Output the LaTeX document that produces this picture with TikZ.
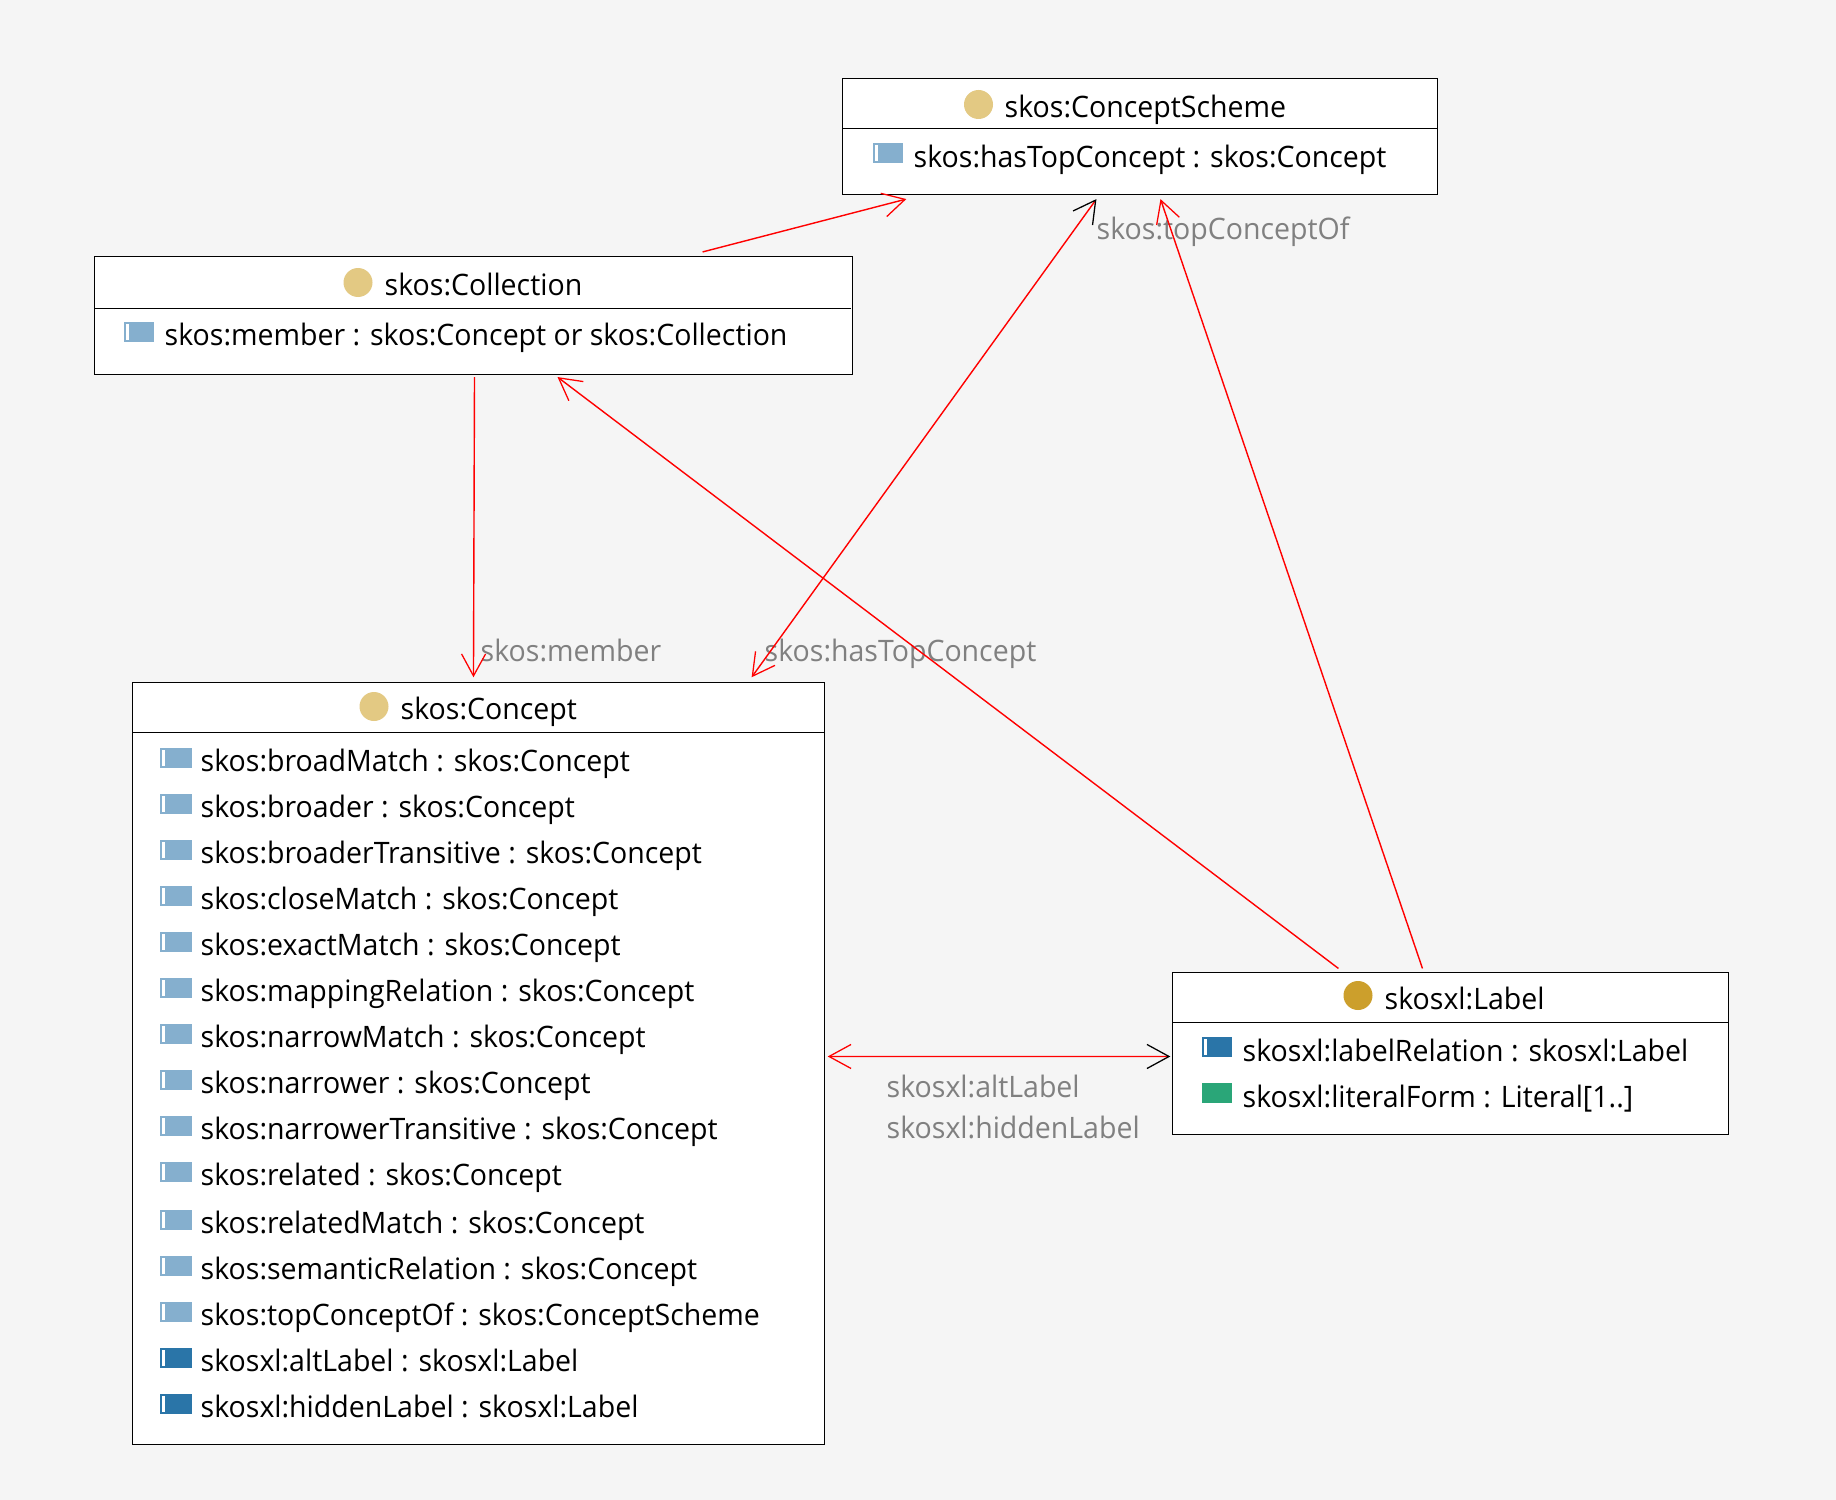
\documentclass[tikz,border=0pt]{standalone}
\usepackage{fontspec}
\setmainfont[FakeStretch=0.965]{Open Sans}
\usetikzlibrary{arrows.meta}

\definecolor{pagebg}{HTML}{F5F5F5}
\definecolor{classpale}{HTML}{E3C983}
\definecolor{classdark}{HTML}{CC9F2C}
\definecolor{proppale}{HTML}{85AFCE}
\definecolor{propdark}{HTML}{2A75A8}
\definecolor{propgreen}{HTML}{2AA678}
\definecolor{edgegray}{HTML}{808080}

\tikzset{
  classbox/.style={draw=black, fill=white, line width=0.3pt, rectangle, inner sep=0pt},
  classtext/.style={anchor=base west, inner sep=0pt, font=\fontsize{8.4}{10}\selectfont},
  edgetext/.style={classtext, text=edgegray},
  assoc/.style={red, line width=0.4pt},
  openhead/.tip={Straight Barb[length=0.22cm, width=0.24cm, line width=0.36pt]},
  blackhead/.tip={Straight Barb[length=0.22cm, width=0.24cm, line width=0.36pt, color=black]}
}

% icon and text of one property row: name, text x, baseline y, icon width, colour, text
\newcommand{\proprow}[6]{
  \fill[#5] (#2-40,#3-24) rectangle (#2-40+#4,#3-4);
  \fill[white] (#2-38,#3-22) rectangle (#2-35,#3-6);
  \node[classtext] (#1) at (#2,#3) {#6};
}
% class circle and title: name, circle x, circle y, colour, text x, baseline y, text
\newcommand{\classtitle}[7]{
  \fill[#4] (#2,#3) circle (14.5);
  \node[classtext] (#1) at (#5,#6) {#7};
}

\begin{document}
\begin{tikzpicture}[x=0.01cm, y=-0.01cm]
  \useasboundingbox[fill=pagebg] (0,0) rectangle (1836,1500);

  % Class boxes
  \node[classbox, minimum width=5.94cm, minimum height=1.16cm] (scheme) at (1140,136.5) {};
  \node[classbox, minimum width=7.57cm, minimum height=1.18cm] (collection) at (473.5,315.5) {};
  \node[classbox, minimum width=6.91cm, minimum height=7.61cm] (concept) at (478.5,1063.5) {};
  \node[classbox, minimum width=5.55cm, minimum height=1.61cm] (label) at (1450.5,1053.5) {};

  % Header rules
  \draw[line width=0.3pt] (842.5,128.5) -- (1437,128.5);
  \draw[line width=0.3pt] (94.5,308.5) -- (851,308.5);
  \draw[line width=0.3pt] (133,732.5) -- (824,732.5);
  \draw[line width=0.3pt] (1173,1022.5) -- (1728,1022.5);

  % skos:ConceptScheme
  \classtitle{schemetitle}{978.5}{104.5}{classpale}{1004}{118}{skos:ConceptScheme}
  \proprow{schemetop}{913}{167.5}{30}{proppale}{skos:hasTopConcept : skos:Concept}

  % skos:Collection
  \classtitle{collectiontitle}{358}{282.5}{classpale}{384}{295}{skos:Collection}
  \proprow{collectionmember}{164}{345.5}{30}{proppale}{skos:member : skos:Concept or skos:Collection}

  % skos:Concept
  \classtitle{concepttitle}{374}{706.5}{classpale}{400}{719}{skos:Concept}
  \proprow{broadmatch}{200}{771.5}{32}{proppale}{skos:broadMatch : skos:Concept}
  \proprow{broader}{200}{817.5}{32}{proppale}{skos:broader : skos:Concept}
  \proprow{broadertrans}{200}{863.5}{32}{proppale}{skos:broaderTransitive : skos:Concept}
  \proprow{closematch}{200}{909.5}{32}{proppale}{skos:closeMatch : skos:Concept}
  \proprow{exactmatch}{200}{955.5}{32}{proppale}{skos:exactMatch : skos:Concept}
  \proprow{mapping}{200}{1001.5}{32}{proppale}{skos:mappingRelation : skos:Concept}
  \proprow{narrowmatch}{200}{1047.5}{32}{proppale}{skos:narrowMatch : skos:Concept}
  \proprow{narrower}{200}{1093.5}{32}{proppale}{skos:narrower : skos:Concept}
  \proprow{narrowertrans}{200}{1139.5}{32}{proppale}{skos:narrowerTransitive : skos:Concept}
  \proprow{related}{200}{1185.5}{32}{proppale}{skos:related : skos:Concept}
  \proprow{relatedmatch}{200}{1233.5}{32}{proppale}{skos:relatedMatch : skos:Concept}
  \proprow{semantic}{200}{1279.5}{32}{proppale}{skos:semanticRelation : skos:Concept}
  \proprow{topconceptof}{200}{1325.5}{32}{proppale}{skos:topConceptOf : skos:ConceptScheme}
  \proprow{altlabel}{200}{1371.5}{32}{propdark}{skosxl:altLabel : skosxl:Label}
  \proprow{hiddenlabel}{200}{1417.5}{32}{propdark}{skosxl:hiddenLabel : skosxl:Label}

  % skosxl:Label
  \classtitle{labeltitle}{1358}{995.5}{classdark}{1384}{1009}{skosxl:Label}
  \proprow{labelrelation}{1242}{1061}{30}{propdark}{skosxl:labelRelation : skosxl:Label}
  \fill[propgreen] (1202,1083) rectangle (1232,1103);
  \node[classtext] (literalform) at (1242,1107) {skosxl:literalForm : Literal[1..]};

  % Connector labels
  \node[edgetext] (edgetop) at (1096,239) {skos:topConceptOf};
  \node[edgetext] (edgemember) at (480,661.5) {skos:member};
  \node[edgetext] (edgehastop) at (764,661.5) {skos:hasTopConcept};
  \node[edgetext] (edgealt) at (886,1097) {skosxl:altLabel};
  \node[edgetext] (edgehidden) at (886,1138) {skosxl:hiddenLabel};

  % Connectors
  \draw[assoc, -{openhead}] ([xshift=2.29cm, yshift=0.04cm]collection.north) -- ([xshift=0.64cm, yshift=-0.04cm]scheme.south west);
  \draw[assoc, -{openhead}] ([xshift=0.01cm, yshift=-0.02cm]collection.south) -- ([xshift=3.41cm, yshift=0.05cm]concept.north west);
  \draw[assoc, -{openhead}] ([xshift=1.66cm, yshift=0.04cm]label.north west) -- ([xshift=4.63cm, yshift=-0.02cm]collection.south west);
  \draw[assoc, {blackhead}-{openhead}] ([xshift=2.54cm, yshift=-0.04cm]scheme.south west) -- ([xshift=6.19cm, yshift=0.05cm]concept.north west);
  \draw[assoc, -{openhead}] ([xshift=2.50cm, yshift=0.04cm]label.north west) -- ([xshift=3.18cm, yshift=-0.04cm]scheme.south west);
  \draw[assoc, {openhead}-{blackhead}] ([xshift=0.03cm, yshift=-3.74cm]concept.north east) -- ([xshift=-0.02cm, yshift=-0.84cm]label.north west);
\end{tikzpicture}
\end{document}
